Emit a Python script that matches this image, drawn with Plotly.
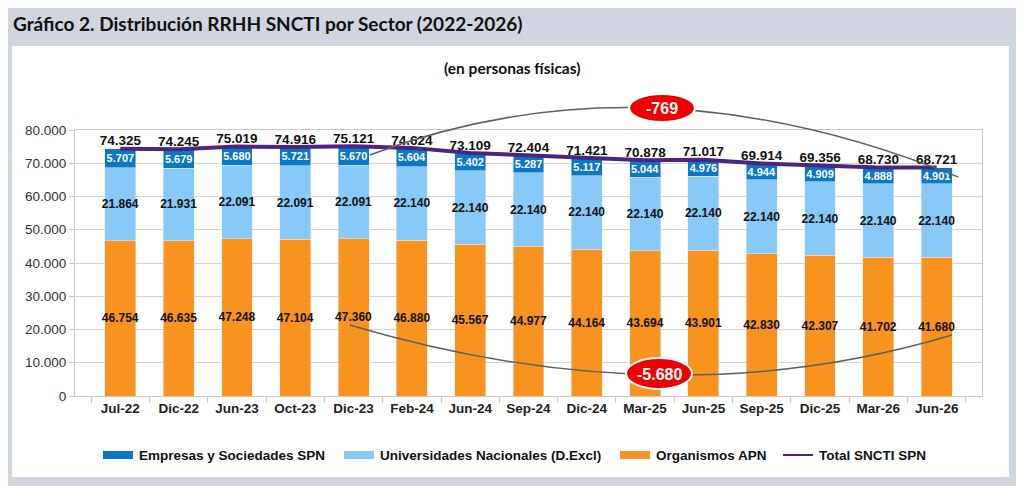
import plotly.graph_objects as go

# data
periods = ["Jul-22", "Dic-22", "Jun-23", "Oct-23", "Dic-23", "Feb-24", "Jun-24", "Sep-24",
           "Dic-24", "Mar-25", "Jun-25", "Sep-25", "Dic-25", "Mar-26", "Jun-26"]
organismos = [46754, 46635, 47248, 47104, 47360, 46880, 45567, 44977,
              44164, 43694, 43901, 42830, 42307, 41702, 41680]
universidades = [21864, 21931, 22091, 22091, 22091, 22140, 22140, 22140,
                 22140, 22140, 22140, 22140, 22140, 22140, 22140]
empresas = [5707, 5679, 5680, 5721, 5670, 5604, 5402, 5287,
            5117, 5044, 4976, 4944, 4909, 4888, 4901]
total = [74325, 74245, 75019, 74916, 75121, 74624, 73109, 72404,
         71421, 70878, 71017, 69914, 69356, 68730, 68721]
dif_total = "-769"
dif_organismos = "-5.680"

C_EMP = "#0a78c6"
C_UNI = "#87c9f7"
C_ORG = "#f7931e"
C_TOT = "#4b2580"


def fmt(v):
    # thousands with dot, spanish style
    return f"{v:,}".replace(",", ".")


def px(x):
    # page pixel -> paper x (plot area spans 75..982)
    return (x - 75) / 907


def py(y):
    # page pixel -> paper y (plot area spans 396..130)
    return (396 - y) / 266


BAR_FONT = dict(family="Liberation Sans, Arial", size=12, color="#111111", weight="bold")
LEG_FONT = dict(family="Liberation Sans, Arial", size=13.5, color="#111111", weight="bold")

fig = go.Figure()

fig.add_trace(go.Bar(x=periods, y=organismos, name="Organismos APN",
                     marker=dict(color=C_ORG),
                     text=[fmt(v) for v in organismos], textposition="inside",
                     insidetextanchor="middle", textangle=0, constraintext="none",
                     textfont=BAR_FONT))
fig.add_trace(go.Bar(x=periods, y=universidades, name="Universidades Nacionales (D.Excl)",
                     marker=dict(color=C_UNI),
                     text=[fmt(v) for v in universidades], textposition="inside",
                     insidetextanchor="middle", textangle=0, constraintext="none",
                     textfont=BAR_FONT))
fig.add_trace(go.Bar(x=periods, y=empresas, name="Empresas y Sociedades SPN",
                     marker=dict(color=C_EMP),
                     text=[fmt(v) for v in empresas], textposition="inside",
                     insidetextanchor="middle", textangle=0, constraintext="none",
                     textfont=dict(family="Liberation Sans, Arial", size=11,
                                   color="white", weight="bold")))
fig.add_trace(go.Scatter(x=periods, y=total, name="Total SNCTI SPN", mode="lines+text",
                         line=dict(color=C_TOT, width=4),
                         text=[fmt(v) for v in total], textposition="top center",
                         textfont=dict(family="Liberation Sans, Arial", size=13.5,
                                       color="#111111", weight="bold"),
                         cliponaxis=False))

# white card behind chart + curved connectors with red ellipses
shapes = [
    dict(type="rect", xref="paper", yref="paper", x0=px(12), x1=px(1009), y0=py(477), y1=py(46),
         fillcolor="white", line=dict(width=0), layer="below"),
    dict(type="path", xref="paper", yref="paper",
         path="M 0.325 0.906 Q 0.63 1.30 0.974 0.823",
         line=dict(color="#606060", width=1.5)),
    dict(type="path", xref="paper", yref="paper",
         path="M 0.303 0.267 Q 0.655 -0.09 0.967 0.229",
         line=dict(color="#606060", width=1.5)),
    dict(type="circle", xref="paper", yref="paper",
         x0=px(629), x1=px(695), y0=py(122), y1=py(94),
         fillcolor="#ee0000", line=dict(color="white", width=2)),
    dict(type="circle", xref="paper", yref="paper",
         x0=px(626), x1=px(692), y0=py(389), y1=py(358),
         fillcolor="#ee0000", line=dict(color="white", width=2)),
]

annotations = [
    dict(text="<b>Gráfico 2. Distribución RRHH SNCTI por Sector (2022-2026)</b>",
         xref="paper", yref="paper", x=px(11), y=py(24),
         xanchor="left", yanchor="middle", showarrow=False,
         font=dict(family="Lato", size=19, color="#111111")),
    dict(text="<b>(en personas físicas)</b>", xref="paper", yref="paper",
         x=px(512), y=py(68), xanchor="center", yanchor="middle", showarrow=False,
         font=dict(family="Lato", size=15.5, color="#111111")),
    dict(text="<b>" + dif_total + "</b>", xref="paper", yref="paper",
         x=px(662), y=py(108), xanchor="center", yanchor="middle", showarrow=False,
         font=dict(family="Liberation Sans, Arial", size=16, color="white")),
    dict(text="<b>" + dif_organismos + "</b>", xref="paper", yref="paper",
         x=px(659), y=py(374), xanchor="center", yanchor="middle", showarrow=False,
         font=dict(family="Liberation Sans, Arial", size=16, color="white")),
]

# legend drawn by hand, to get the wide swatches of the original
legend_items = [("Empresas y Sociedades SPN", C_EMP, 103, "bar"),
                ("Universidades Nacionales (D.Excl)", C_UNI, 344, "bar"),
                ("Organismos APN", C_ORG, 620, "bar"),
                ("Total SNCTI SPN", C_TOT, 783, "line")]
for label, color, x0, kind in legend_items:
    if kind == "bar":
        shapes.append(dict(type="rect", xref="paper", yref="paper",
                           x0=px(x0), x1=px(x0 + 30), y0=py(459), y1=py(451),
                           fillcolor=color, line=dict(width=0)))
    else:
        shapes.append(dict(type="line", xref="paper", yref="paper",
                           x0=px(x0), x1=px(x0 + 30), y0=py(455), y1=py(455),
                           line=dict(color=color, width=2)))
    annotations.append(dict(text=label, xref="paper", yref="paper", x=px(x0 + 34), y=py(455),
                            xanchor="left", yanchor="middle", showarrow=False,
                            font=LEG_FONT))

# the page puts the figure 8px in from the top-left corner
fig.update_layout(
    width=1016, height=478,
    margin=dict(l=67, r=42, t=122, b=90),
    paper_bgcolor="#d0d5e0",
    plot_bgcolor="white",
    barmode="stack",
    bargap=0.47,
    separators=",.",
    shapes=shapes,
    annotations=annotations,
    showlegend=False,
)
fig.update_xaxes(showline=True, linecolor="#c8c8c8", mirror=True, ticks="outside",
                 tickson="boundaries", ticklen=6, tickcolor="#c8c8c8",
                 tickfont=dict(family="Liberation Sans, Arial", size=13.5, color="#222222",
                               weight="bold"))
fig.update_yaxes(range=[0, 80000], dtick=10000, tickformat=",d", showgrid=True,
                 gridcolor="#d4d4d4", showline=True, linecolor="#c8c8c8", mirror=True,
                 ticks="outside", ticklen=5, tickcolor="#c8c8c8", zeroline=False,
                 tickfont=dict(family="Liberation Sans, Arial", size=13.5, color="#333333"))

fig.write_html("out.html")
